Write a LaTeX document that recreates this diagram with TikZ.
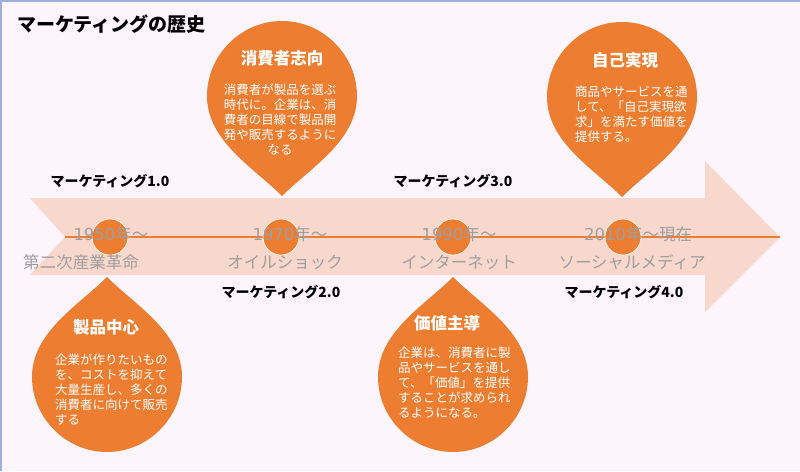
\documentclass[tikz,border=0pt]{standalone}
\usepackage{fontspec}
\setmainfont{Noto Sans CJK JP}
\newfontfamily\digitfont{DejaVu Sans}
\usetikzlibrary{positioning,calc}
\definecolor{MkOrange}{RGB}{237,125,49}
\definecolor{MkPink}{RGB}{248,215,204}
\definecolor{MkGray}{RGB}{158,158,158}
\definecolor{MkBack}{RGB}{253,245,252}
\definecolor{MkFrame}{RGB}{160,176,216}
\tikzset{
  era/.style={circle,fill=MkOrange,draw=white,line width=0.6pt,minimum size=36pt,inner sep=0pt},
  year/.style={text=MkGray,font=\fontsize{16.5}{18}\selectfont,inner sep=0pt},
  stage/.style={font=\fontsize{14}{16}\selectfont\bfseries,inner sep=0pt},
  droptitle/.style={text=white,font=\fontsize{16.5}{18}\selectfont\bfseries,inner sep=0pt},
  dropbody/.style={text=white,font=\fontsize{12.5}{15}\selectfont,inner sep=0pt,align=left},
  timeline/.style={draw=MkOrange,line width=2pt},
  teardrop/.pic={\fill[MkOrange] (0,0) .. controls (-28,-28) and (-75,-55) .. (-75,-100)
    .. controls (-75,-141) and (-41,-175) .. (0,-175) .. controls (41,-175) and (75,-141) .. (75,-100)
    .. controls (75,-55) and (28,-28) .. (0,0);},
}

\begin{document}
\begin{tikzpicture}[x=1pt,y=-1pt]
\useasboundingbox (0,0) rectangle (800,471);
\fill[MkBack] (0,0) rectangle (800,471);
\draw[MkFrame,line width=1.5pt] (0.75,471) -- (0.75,0.75) -- (800,0.75);
\fill[MkPink] (30,198) -- (705,198) -- (705,161) -- (780,237) -- (705,312) -- (705,275) -- (30,275) -- (65,237) -- cycle;
\coordinate (notch) at (65,237);
\coordinate (tip) at (780,237);
\draw[timeline] (notch) -- (tip);
\node[era] (e1) at (110,237) {};
\node[era] (e2) at (281,237) {};
\node[era] (e3) at (453,237) {};
\node[era] (e4) at (623,237) {};
\node[year] (y1) at (111,234) {{\digitfont 1950}年〜};
\node[year] (y2) at (290,234) {{\digitfont 1970}年〜};
\node[year] (y3) at (459,234) {{\digitfont 1990}年〜};
\node[year] (y4) at (638,234) {{\digitfont 2010}年〜現在};
\node[year] (w1) at (81,262) {第二次産業革命};
\node[year] (w2) at (285,262) {オイルショック};
\node[year] (w3) at (459,262) {インターネット};
\node[year] (w4) at (632,262) {ソーシャルメディア};
\pic at (282,196) {teardrop};
\pic at (622,197) {teardrop};
\pic[yscale=-1] at (107,277) {teardrop};
\pic[yscale=-1] at (453,277) {teardrop};
\node[droptitle] (t2) at (282,58) {消費者志向};
\node[dropbody,align=center,anchor=north] (b2) at (280,84) {消費者が製品を選ぶ\\時代に。企業は、消\\費者の目線で製品開\\発や販売するように\\なる};
\node[droptitle] (t4) at (625,60) {自己実現};
\node[dropbody,anchor=north west] (b4) at (575,86) {商品やサービスを通\\して、「自己実現欲\\求」を満たす価値を\\提供する。};
\node[droptitle] (t1) at (106,327) {製品中心};
\node[dropbody,anchor=north west] (b1) at (55,354) {企業が作りたいもの\\を、コストを抑えて\\大量生産し、多くの\\消費者に向けて販売\\する};
\node[droptitle] (t3) at (447,323) {価値主導};
\node[dropbody,anchor=north west] (b3) at (398,347) {企業は、消費者に製\\品やサービスを通し\\て、「価値」を提供\\することが求められ\\るようになる。};
\node[stage] (m1) at (110,181) {マーケティング1.0};
\node[stage] (m2) at (281,292) {マーケティング2.0};
\node[stage] (m3) at (453,181) {マーケティング3.0};
\node[stage] (m4) at (624,292) {マーケティング4.0};
\node[font=\fontsize{19}{21}\selectfont\bfseries,inner sep=0pt,anchor=west] (title) at (17,24) {マーケティングの歴史};
\end{tikzpicture}
\end{document}
